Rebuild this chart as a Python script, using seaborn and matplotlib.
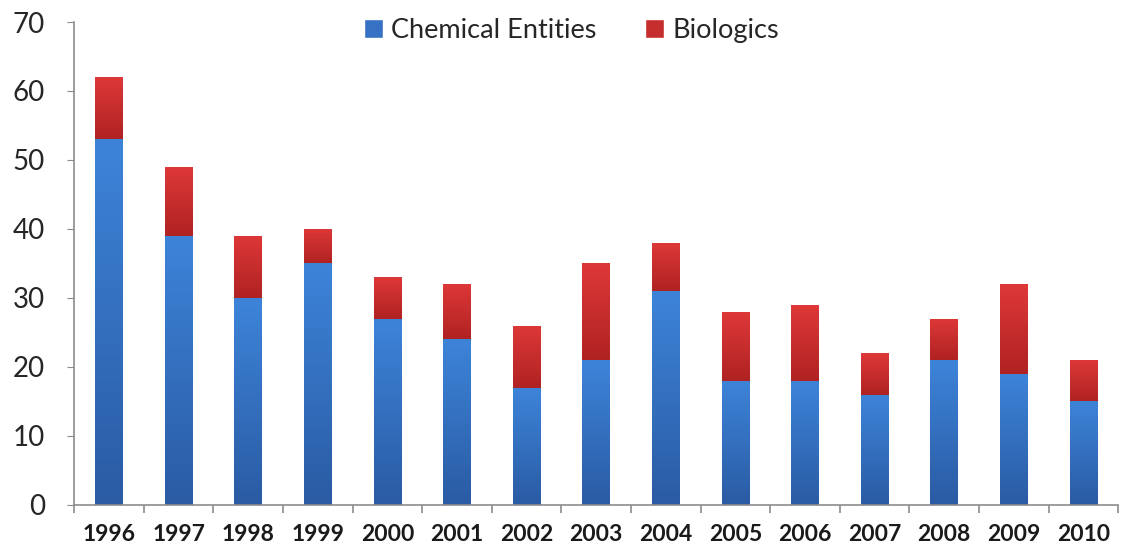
import numpy as np
import pandas as pd
import matplotlib.pyplot as plt
from matplotlib.colors import LinearSegmentedColormap
from matplotlib.patches import Patch
import seaborn as sns

years = ["1996", "1997", "1998", "1999", "2000", "2001", "2002", "2003",
         "2004", "2005", "2006", "2007", "2008", "2009", "2010"]
chemical = [53, 39, 30, 35, 27, 24, 17, 21, 31, 18, 18, 16, 21, 19, 15]
biologics = [9, 10, 9, 5, 6, 8, 9, 14, 7, 10, 11, 6, 6, 13, 6]

BLUE_TOP, BLUE_BOT = "#3d84d9", "#2a5ba3"
RED_TOP, RED_BOT = "#de3838", "#b02222"


def shade_bars(ax, patches, lows, highs, top, bot):
    """Replace flat bar fill with a vertical gradient."""
    cmap = LinearSegmentedColormap.from_list("g", [bot, top])
    grad = np.linspace(0, 1, 256).reshape(-1, 1)
    for p, lo, hi in zip(patches, lows, highs):
        x0 = p.get_x()
        w = p.get_width()
        im = ax.imshow(grad, cmap=cmap, origin="lower", aspect="auto",
                       extent=(x0, x0 + w, lo, hi), zorder=p.get_zorder())
        im.set_clip_path(p)
        p.set_facecolor("none")


sns.set_style("white")
plt.rcParams["font.family"] = ["Lato", "DejaVu Sans"]

df = pd.DataFrame({"year": years, "chemical": chemical, "biologics": biologics})
df["total"] = df["chemical"] + df["biologics"]

fig = plt.figure(figsize=(11.25, 5.5), dpi=100)
ax = fig.add_axes([0.066, 0.082, 0.928, 0.878])

sns.barplot(data=df, x="year", y="total", color=RED_TOP, width=0.4,
            saturation=1, ax=ax)
red_patches = list(ax.patches)
sns.barplot(data=df, x="year", y="chemical", color=BLUE_TOP, width=0.4,
            saturation=1, ax=ax)
blue_patches = list(ax.patches)[len(red_patches):]

shade_bars(ax, red_patches, df["chemical"], df["total"], RED_TOP, RED_BOT)
shade_bars(ax, blue_patches, [0] * len(df), df["chemical"], BLUE_TOP, BLUE_BOT)

ax.set_xlim(-0.5, len(years) - 0.5)
ax.set_ylim(0, 70)
ax.set_yticks(range(0, 71, 10))
ax.set_xlabel("")
ax.set_ylabel("")

for side in ["top", "right"]:
    ax.spines[side].set_visible(False)
for side in ["left", "bottom"]:
    ax.spines[side].set_color("#8c8c8c")
    ax.spines[side].set_linewidth(1.2)

ax.tick_params(axis="y", left=True, length=5, color="#8c8c8c",
               labelsize=20, labelcolor="#262626", pad=16)
ax.set_xticks(range(len(years)))
ax.set_xticklabels(years, fontweight="bold", fontsize=16.5, color="#1a1a1a")
ax.tick_params(axis="x", bottom=False, pad=10)
# category boundary ticks
ax.set_xticks(np.arange(-0.5, len(years), 1), minor=True)
ax.tick_params(axis="x", which="minor", bottom=True, length=6,
               color="#8c8c8c", width=1.2)

handles = [Patch(facecolor="#3771c4", label="Chemical Entities"),
           Patch(facecolor="#c62e2e", label="Biologics")]
fig.legend(handles=handles, loc="upper center", bbox_to_anchor=(0.508, 1.012),
           ncol=2, frameon=False, fontsize=19.5, handlelength=0.7,
           handleheight=0.7, handletextpad=0.3, columnspacing=1.8)

fig.savefig("out.png", dpi=100)
